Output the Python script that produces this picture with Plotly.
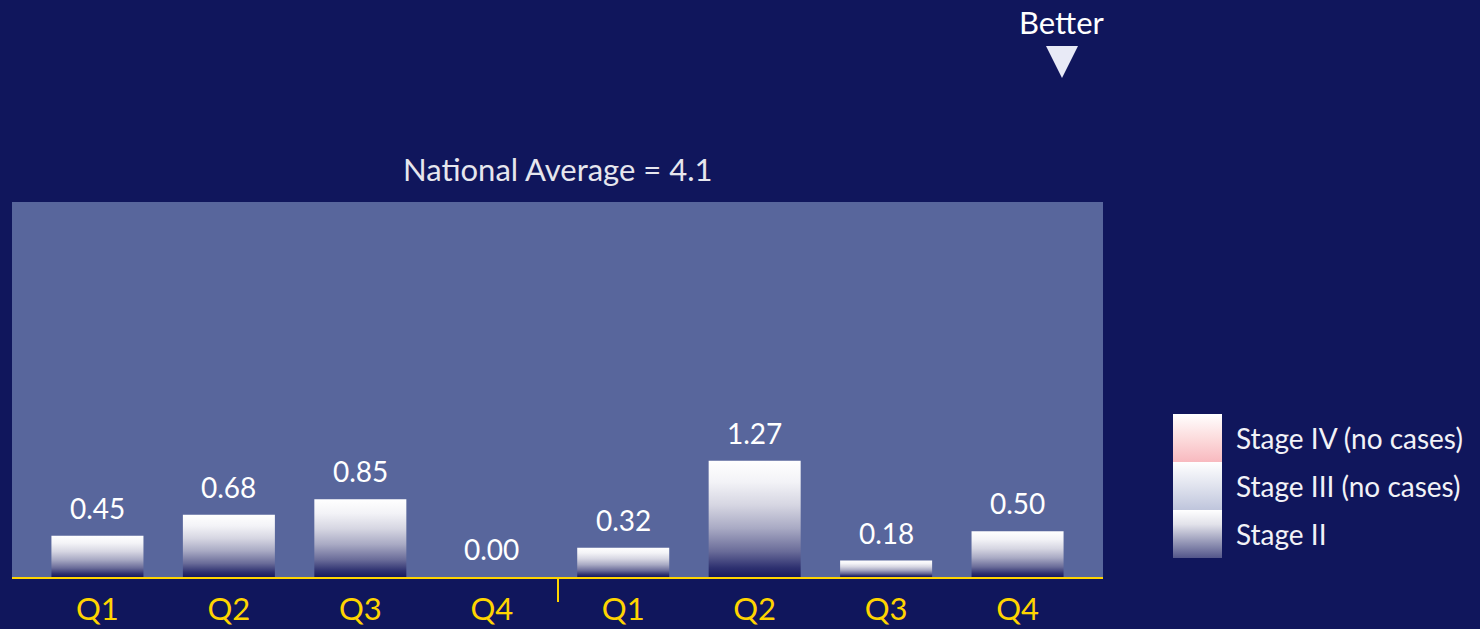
import plotly.graph_objects as go

# ---- data ----
quarters = ["Q1", "Q2", "Q3", "Q4", "Q1", "Q2", "Q3", "Q4"]
stage2_values = [0.45, 0.68, 0.85, 0.00, 0.32, 1.27, 0.18, 0.50]
value_labels = ["0.45", "0.68", "0.85", "0.00", "0.32", "1.27", "0.18", "0.50"]
national_avg = 4.1
legend_names = ["Stage II", "Stage III (no cases)", "Stage IV (no cases)"]

# ---- styles ----
BG = "#10165C"
PANEL = "#58669C"
YELLOW = "#FFD400"
FONT = "Lato"
W, H = 1480, 629
bar_width = 0.7

bar_scale = [[0.0, "#181a5e"], [0.08, "#2e3170"], [0.22, "#6a6c99"],
             [0.42, "#a9aac4"], [0.62, "#d6d6e2"], [0.82, "#f3f3f7"], [1.0, "#ffffff"]]
legend_scales = [
    [[0.0, "#53568a"], [0.35, "#9a9cba"], [0.7, "#e2e2ea"], [1.0, "#ffffff"]],
    [[0.0, "#bfc5dc"], [0.5, "#e0e3ee"], [1.0, "#ffffff"]],
    [[0.0, "#f8b9bf"], [0.5, "#fcdcdd"], [1.0, "#ffffff"]],
]

fig = go.Figure()

# bars (gradient-filled polygons built from the values)
for i, v in enumerate(stage2_values):
    if v <= 0:
        continue
    x0, x1 = i - bar_width / 2, i + bar_width / 2
    fig.add_trace(go.Scatter(
        x=[x0, x1, x1, x0, x0], y=[0, 0, v, v, 0],
        mode="lines", fill="toself", line=dict(width=0),
        fillgradient=dict(type="vertical", colorscale=bar_scale, start=0, stop=v),
        hoverinfo="skip", showlegend=False, xaxis="x", yaxis="y"))

# value labels
for i, (v, t) in enumerate(zip(stage2_values, value_labels)):
    fig.add_annotation(x=i, y=v, xref="x", yref="y", text=t, showarrow=False,
                       yanchor="bottom", yshift=9,
                       font=dict(family=FONT, size=28, color="#ffffff"))

# legend swatches on a small helper axis
for k, name in enumerate(legend_names):
    fig.add_trace(go.Scatter(
        x=[0, 1, 1, 0, 0], y=[k, k, k + 1, k + 1, k],
        mode="lines", fill="toself", line=dict(width=0),
        fillgradient=dict(type="vertical", colorscale=legend_scales[k], start=k, stop=k + 1),
        hoverinfo="skip", showlegend=False, xaxis="x2", yaxis="y2"))
    fig.add_annotation(x=1, y=k + 0.5, xref="x2", yref="y2", text=name, showarrow=False,
                       xanchor="left", yanchor="middle", xshift=12,
                       font=dict(family=FONT, size=28, color="#f2f2f7"))

# national average panel
fig.add_shape(type="rect", xref="x domain", yref="y", x0=0, x1=1, y0=0, y1=national_avg,
              fillcolor=PANEL, line=dict(width=0), layer="below")

dom_x = [12 / W, 1103 / W]
dom_y = [1 - 577 / H, 1 - 202 / H]

fig.add_annotation(x=0.5, y=national_avg, xref="x domain", yref="y",
                   text=f"National Average = {national_avg}", showarrow=False,
                   yanchor="bottom", yshift=12,
                   font=dict(family=FONT, size=31, color="#e6e6ee"))

# "Better" indicator
fig.add_annotation(x=1062 / W, y=1 - 22 / H, xref="paper", yref="paper", text="Better",
                   showarrow=False, xanchor="center", yanchor="middle",
                   font=dict(family=FONT, size=31, color="#ffffff"))
fig.add_shape(type="path", xref="paper", yref="paper",
              path=f"M {1046/W} {1-46/H} L {1078/W} {1-46/H} L {1062/W} {1-78/H} Z",
              fillcolor="#e8eaf6", line=dict(width=0))

fig.update_layout(
    width=W, height=H,
    paper_bgcolor=BG, plot_bgcolor=BG,
    margin=dict(l=0, r=0, t=0, b=0),
    showlegend=False,
    xaxis=dict(domain=dom_x, range=[-0.65, len(quarters) - 0.35],
               tickmode="array", tickvals=list(range(len(quarters))), ticktext=quarters,
               ticks="", showgrid=False, zeroline=False,
               showline=True, linecolor=YELLOW, linewidth=2,
               tickfont=dict(family=FONT, size=31, color=YELLOW),
               ticklabelstandoff=4,
               minor=dict(tickmode="array", tickvals=[3.5], ticks="outside",
                          ticklen=23, tickwidth=2, tickcolor=YELLOW, showgrid=False),
               fixedrange=True),
    yaxis=dict(domain=dom_y, range=[0, national_avg], visible=False,
               showgrid=False, zeroline=False, fixedrange=True),
    xaxis2=dict(domain=[1173 / W, 1222 / W], range=[0, 1], visible=False,
                anchor="y2", fixedrange=True),
    yaxis2=dict(domain=[1 - 558 / H, 1 - 414 / H], range=[0, 3], visible=False,
                anchor="x2", fixedrange=True),
)

fig.write_html(
    "out.html",
    config={"displayModeBar": False},
    post_script="document.body.style.margin='0';document.body.style.overflow='hidden';",
)
